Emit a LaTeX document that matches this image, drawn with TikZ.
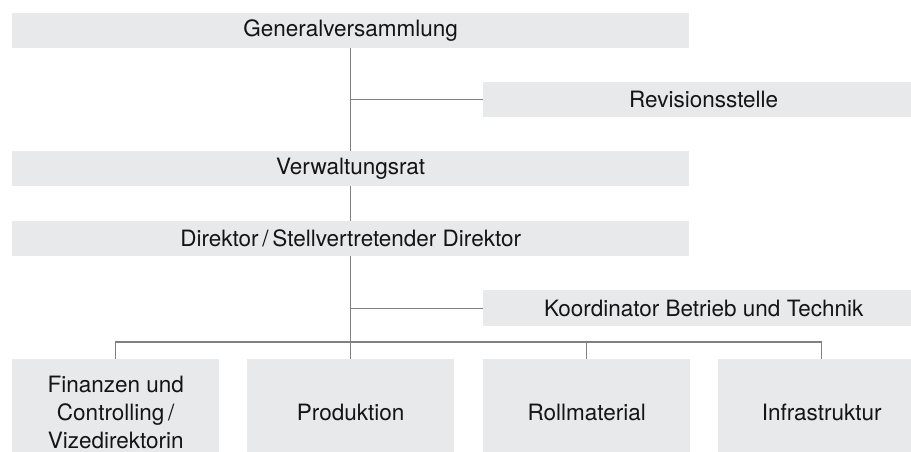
\documentclass[tikz,border=0pt]{standalone}
\usepackage{fontspec}
\setmainfont{TeX Gyre Heros}
\definecolor{boxfill}{HTML}{E8E9EB}
\definecolor{linegray}{HTML}{808080}
\definecolor{txt}{HTML}{141414}
\tikzset{
  orgbox/.style={fill=boxfill, draw=none, inner sep=0pt, anchor=north west,
    text=txt, align=center, font=\fontsize{22.5}{28}\selectfont},
  widebox/.style={orgbox, minimum width=677pt, minimum height=35pt},
  sidebox/.style={orgbox, minimum width=441pt, minimum height=35pt},
  unitbox/.style={orgbox, minimum width=207pt, minimum height=106pt},
  conn/.style={draw=linegray, line width=1.1pt}
}
\begin{document}
\begin{tikzpicture}[x=1pt,y=-1pt]
\useasboundingbox (0,0) rectangle (911,452);
\clip (0,0) rectangle (911,452);
\node[widebox] (gv) at (12,13) {Generalversammlung};
\node[sidebox] (rev) at (483,82) {Revisionsstelle};
\node[widebox] (vr) at (12,151) {Verwaltungsrat};
\node[widebox] (dir) at (12,221) {Direktor\,/\,Stellvertretender Direktor};
\node[sidebox, minimum height=36pt] (koord) at (483,290) {Koordinator Betrieb und Technik};
\node[unitbox] (fin) at (12,359) {Finanzen und\\Controlling\,/\\Vizedirektorin};
\node[unitbox] (prod) at (247,359) {Produktion};
\node[unitbox] (roll) at (483,359) {Rollmaterial};
\node[unitbox] (infra) at (718,359) {Infrastruktur};
\coordinate (bus) at (0,342);
\draw[conn] (gv.south) -- (vr.north);
\draw[conn] (vr.south) -- (dir.north);
\draw[conn] (gv.south |- rev.west) -- (rev.west);
\draw[conn] (dir.south) -- (prod.north);
\draw[conn] (dir.south |- koord.west) -- (koord.west);
\draw[conn] (fin.north) -- (fin.north |- bus) -- (infra.north |- bus) -- (infra.north);
\draw[conn] (roll.north) -- (roll.north |- bus);
\end{tikzpicture}
\end{document}
